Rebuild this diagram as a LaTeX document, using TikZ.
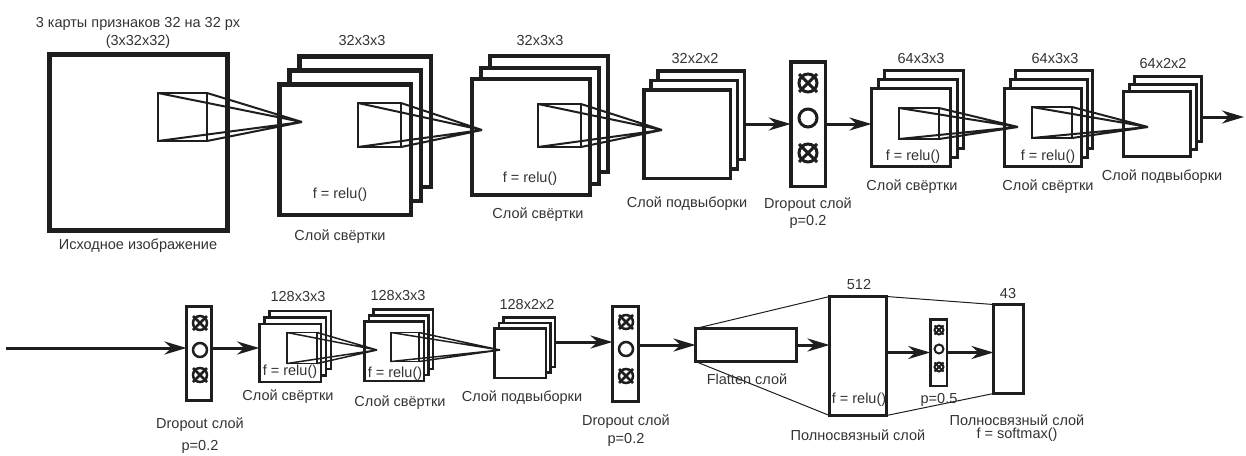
\documentclass[tikz,border=0pt]{standalone}
\usepackage{fontspec}
\setmainfont{Liberation Sans}
\usetikzlibrary{arrows.meta}
\definecolor{ink}{HTML}{1E1E1E}
\definecolor{txt}{HTML}{333333}

\newcommand\fmstack[8]{% name, cx, cy, w, h, dx, dy, lw
  \node[fm, line width=#8pt, minimum width=#4pt, minimum height=#5pt] (#1-3) at ({#2+2*(#6)},{#3+2*(#7)}) {};
  \node[fm, line width=#8pt, minimum width=#4pt, minimum height=#5pt] (#1-2) at ({#2+(#6)},{#3+(#7)}) {};
  \node[fm, line width=#8pt, minimum width=#4pt, minimum height=#5pt] (#1) at (#2,#3) {};}
\newcommand\fmbox[6]{% name, cx, cy, w, h, lw
  \node[fm, line width=#6pt, minimum width=#4pt, minimum height=#5pt] (#1) at (#2,#3) {};}
\newcommand\kernelsq[7]{% name, cx, cy, w, h, apex, lw
  \node[fm, fill=none, line width=#7pt, minimum width=#4pt, minimum height=#5pt] (#1) at (#2,#3) {};
  \draw[ink, line width=#7pt] (#1.north west) -- (#6) (#1.north east) -- (#6)
        (#1.south west) -- (#6) (#1.south east) -- (#6);}
\newcommand\unitcirc[5]{% name, x, y, r, lw
  \node[circle, draw=ink, line width=#5pt, minimum size={2*#4pt}, inner sep=0pt, outer sep=0pt] (#1) at (#2,#3) {};}
\newcommand\dropcirc[5]{% crossed circle
  \unitcirc{#1}{#2}{#3}{#4}{#5}
  \draw[ink, line width=#5pt] (#1.center) +({-#4},{-#4}) -- +({#4},{#4})
        (#1.center) +({-#4},{#4}) -- +({#4},{-#4});}

\begin{document}
\begin{tikzpicture}[x=1pt,y=-1pt,
  fm/.style={draw=ink, fill=white, rectangle, inner sep=0pt, outer sep=0pt},
  lbl/.style={text=txt, font=\fontsize{14.5}{16}\selectfont, inner sep=0pt, yshift=-2pt},
  arr/.style={draw=ink, line width=3pt, -{Stealth[length=22pt,width=13pt,inset=7pt]}},
  thinline/.style={draw=ink, line width=1pt}]
\useasboundingbox (0,0) rectangle (1246,455);

% ---------- top row ----------
\fmbox{inp}{138.5}{142.5}{178}{176}{5}
\fmstack{conv1}{345}{149.5}{131.5}{130.5}{10}{-14}{4.5}
\fmstack{conv2}{531}{137}{118}{116}{9}{-11.5}{4}
\fmstack{pool1}{687}{134}{86.5}{88.5}{7}{-9.5}{3.5}
\fmbox{drop1}{808}{124}{34.5}{124.5}{3.5}
\fmstack{conv3}{911}{127.5}{79}{78}{6.5}{-9}{3}
\fmstack{conv4}{1043}{127.5}{77}{78}{5.5}{-9}{3}
\fmstack{pool2}{1157}{124}{67}{65}{5.5}{-7.5}{3}

\coordinate (a0) at (302,122);
\coordinate (a1) at (482,130);
\coordinate (a2) at (662,130);
\coordinate (a3) at (1018,127);
\coordinate (a4) at (1148,127);
\kernelsq{k0}{182.5}{117}{49}{48}{a0}{2}
\kernelsq{k1}{379.5}{125}{43}{44}{a1}{2}
\kernelsq{k2}{559.5}{125.5}{43}{43}{a2}{2}
\kernelsq{k3}{919}{123.5}{40}{31}{a3}{2}
\kernelsq{k4}{1052}{122.5}{40}{31}{a4}{2}

\dropcirc{d1a}{808}{83}{9}{3}
\unitcirc{d1b}{808}{118}{9}{3}
\dropcirc{d1c}{808}{153}{9}{3}

\coordinate (e1) at (1244,117);
\draw[arr] (pool1-3.east |- drop1.west) -- (drop1.west);
\draw[arr] (drop1.east) -- (drop1.east -| conv3.west);
\draw[arr] (pool2-3.east |- e1) -- (e1);

% ---------- bottom row ----------
\fmbox{drop2}{199}{353.5}{25}{94}{3}
\fmstack{conv5}{290}{353}{61.5}{58}{5}{-6.5}{2.5}
\fmstack{conv6}{394}{351}{59.5}{59.5}{4.5}{-6}{2.5}
\fmstack{pool3}{520}{353}{51.5}{49.5}{4.5}{-5.5}{2.5}
\fmbox{drop3}{625.5}{354}{26}{95}{3}
\fmbox{flat}{746}{345}{101}{33}{3}
\fmbox{fc1}{858}{356}{57}{119}{3}
\fmbox{drop4}{938.5}{352.5}{16.5}{66.5}{2.5}
\fmbox{fc2}{1008.5}{349}{30}{89}{3}

\coordinate (a5) at (377,350);
\coordinate (a6) at (500,350);
\kernelsq{k5}{302}{348}{30}{31}{a5}{1.5}
\kernelsq{k6}{405}{347}{28}{29}{a6}{1.5}

\dropcirc{d2a}{200}{323}{7}{2.5}
\unitcirc{d2b}{200}{350}{7}{2.5}
\dropcirc{d2c}{200}{375}{7}{2.5}
\dropcirc{d3a}{626}{322}{7}{2.5}
\unitcirc{d3b}{626}{349}{7}{2.5}
\dropcirc{d3c}{626}{376}{7}{2.5}
\dropcirc{d4a}{939}{330}{4.5}{2}
\unitcirc{d4b}{939}{349}{4.5}{2}
\dropcirc{d4c}{939}{367}{4.5}{2}

\draw[thinline] (flat.north west) -- (fc1.north west);
\draw[thinline] (flat.south west) -- (fc1.south west);
\draw[thinline] (fc1.north east) -- (fc2.north west);
\draw[thinline] (fc1.south east) -- (fc2.south west);

\coordinate (s1) at (6,348);
\draw[arr] (s1) -- (s1 -| drop2.west);
\draw[arr] (drop2.east |- s1) -- (s1 -| conv5.west);
\draw[arr] (pool3-3.east) -- (pool3-3.east -| drop3.west);
\draw[arr] (drop3.east |- flat.west) -- (flat.west);
\draw[arr] (flat.east) -- (flat.east -| fc1.west);
\draw[arr] (fc1.east |- drop4.west) -- (drop4.west);
\draw[arr] (drop4.east) -- (drop4.east -| fc2.west);

% ---------- labels ----------
\node[lbl] (t1) at (138,22) {3 карты признаков 32 на 32 px};
\node[lbl] (t2) at (138,40) {(3x32x32)};
\node[lbl] (t3) at (138,244) {Исходное изображение};
\node[lbl] (t4) at (362,39) {32x3x3};
\node[lbl] (t5) at (340,193) {f = relu()};
\node[lbl] (t6) at (340,235) {Слой свёртки};
\node[lbl] (t7) at (540,39) {32x3x3};
\node[lbl] (t8) at (530,177) {f = relu()};
\node[lbl] (t9) at (538,213) {Слой свёртки};
\node[lbl] (t10) at (695,57) {32x2x2};
\node[lbl] (t11) at (687,202) {Слой подвыборки};
\node[lbl] (t12) at (808,203) {Dropout слой};
\node[lbl] (t13) at (808,220) {p=0.2};
\node[lbl] (t14) at (921,57) {64x3x3};
\node[lbl] (t15) at (913,155) {f = relu()};
\node[lbl] (t16) at (912,185) {Слой свёртки};
\node[lbl] (t17) at (1055,57) {64x3x3};
\node[lbl] (t18) at (1048,155) {f = relu()};
\node[lbl] (t19) at (1048,185) {Слой свёртки};
\node[lbl] (t20) at (1163,62) {64x2x2};
\node[lbl] (t21) at (1162,175) {Слой подвыборки};
\node[lbl] (t22) at (200,423) {Dropout слой};
\node[lbl] (t23) at (200,445) {p=0.2};
\node[lbl] (t24) at (298,295) {128x3x3};
\node[lbl] (t25) at (290,370) {f = relu()};
\node[lbl] (t26) at (288,395) {Слой свёртки};
\node[lbl] (t27) at (398,294) {128x3x3};
\node[lbl] (t28) at (395,372) {f = relu()};
\node[lbl] (t29) at (400,401) {Слой свёртки};
\node[lbl] (t30) at (527,303) {128x2x2};
\node[lbl] (t31) at (522,396) {Слой подвыборки};
\node[lbl] (t32) at (626,420) {Dropout слой};
\node[lbl] (t33) at (626,438) {p=0.2};
\node[lbl] (t34) at (747,377) {Flatten слой};
\node[lbl] (t35) at (859,283) {512};
\node[lbl] (t36) at (859,398) {f = relu()};
\node[lbl] (t37) at (858,433) {Полносвязный слой};
\node[lbl] (t38) at (939,398) {p=0.5};
\node[lbl] (t39) at (1008,292) {43};
\node[lbl] (t40) at (1017,418) {Полносвязный слой};
\node[lbl] (t41) at (1017,433) {f = softmax()};
\end{tikzpicture}
\end{document}
